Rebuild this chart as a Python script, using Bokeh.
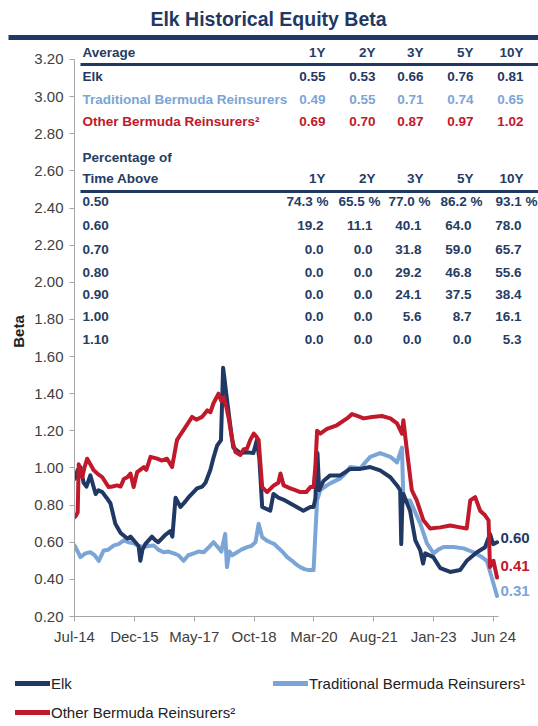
from bokeh.plotting import figure
from bokeh.models import (Range1d, FixedTicker, Label, BoxAnnotation, Legend, LegendItem)
from bokeh.embed import file_html
from bokeh.resources import INLINE

# ---------------- data ----------------
x_tick_months = [0, 17, 34, 51, 68, 85, 102, 119]
x_tick_labels = ["Jul-14", "Dec-15", "May-17", "Oct-18", "Mar-20", "Aug-21", "Jan-23", "Jun 24"]
y_ticks = [0.2, 0.4, 0.6, 0.8, 1.0, 1.2, 1.4, 1.6, 1.8, 2.0, 2.2, 2.4, 2.6, 2.8, 3.0, 3.2]

# months since Jul-2014
elk_m = [0, 0.3, 0.9, 1.7, 2.6, 3.4, 4.5, 6.0, 6.8, 7.9,
         9.1, 10.2, 11.6, 13.1, 15.0, 15.9, 17.3, 18.2, 18.7, 19.3,
         20.1, 22.0, 23.0, 23.8, 25.8, 27.2, 27.8, 28.7, 30.1, 31.5,
         32.3, 33.8, 34.8, 36.3, 37.2, 38.6, 39.4, 40.5, 41.6, 42.2,
         42.6, 43.1, 44.3, 45.1, 47.1, 49.0, 50.8, 51.8, 52.5, 53.3,
         55.6, 56.5, 57.9, 59.3, 62.1, 65.0, 67.0, 67.9, 68.4, 69.0,
         69.5, 70.7, 72.6, 75.5, 78.3, 81.2, 84.0, 86.8, 89.7, 91.6,
         92.5, 92.8, 93.1, 93.4, 95.3, 96.8, 98.2, 99.0, 99.6, 101.9,
         103.9, 106.7, 109.5, 111.4, 114.3, 116.6, 118.0, 118.9, 120.0]
elk_v = [0.94, 0.95, 0.99, 1.005, 0.92, 0.90, 0.96, 0.86, 0.88, 0.87,
         0.84, 0.81, 0.70, 0.65, 0.62, 0.63, 0.60, 0.58, 0.50, 0.56,
         0.59, 0.63, 0.61, 0.60, 0.64, 0.66, 0.63, 0.84, 0.79, 0.82,
         0.84, 0.87, 0.89, 0.90, 0.92, 0.99, 1.05, 1.12, 1.15, 1.54,
         1.48, 1.40, 1.22, 1.11, 1.08, 1.085, 1.08, 1.15, 1.05, 0.79,
         0.77, 0.86, 0.84, 0.83, 0.80, 0.77, 0.79, 0.79, 0.835, 1.08,
         0.88, 0.93, 0.96, 0.96, 0.995, 0.995, 1.005, 0.987, 0.95, 0.906,
         0.88, 0.59, 0.80, 0.86, 0.77, 0.61, 0.556, 0.485, 0.54, 0.52,
         0.46, 0.44, 0.45, 0.50, 0.546, 0.573, 0.645, 0.59, 0.60]

other_m = [0, 0.3, 0.9, 1.2, 1.7, 2.2, 2.8, 3.6, 4.5, 5.5,
           6.5, 7.9, 9.7, 10.8, 12.1, 13.1, 14.0, 15.0, 15.9, 16.8,
           17.8, 19.7, 20.4, 21.6, 23.5, 24.7, 26.3, 27.7, 29.1, 30.1,
           31.5, 33.4, 34.6, 36.2, 37.7, 38.6, 39.5, 40.9, 41.7, 42.4,
           43.1, 43.8, 44.8, 45.7, 47.1, 48.0, 49.0, 49.9, 50.9, 51.6,
           52.3, 53.3, 54.7, 56.6, 57.9, 58.5, 59.4, 61.3, 62.7, 64.1,
           65.8, 67.0, 67.9, 68.4, 68.9, 69.8, 71.7, 74.5, 77.4, 78.8,
           80.3, 82.1, 84.5, 87.3, 89.7, 91.6, 93.0, 93.4, 94.4, 95.8,
           97.2, 99.1, 101.0, 103.9, 106.7, 109.5, 111.4, 112.4, 113.8, 115.2,
           116.6, 117.6, 118.0, 119.0, 120.0]
other_v = [0.735, 0.74, 0.76, 1.02, 0.98, 0.95, 1.00, 1.05, 1.02, 0.987,
           0.97, 0.95, 0.897, 0.90, 0.906, 0.90, 0.94, 0.95, 0.97, 0.897,
           0.978, 1.005, 0.99, 1.06, 1.05, 1.04, 1.05, 1.005, 1.15, 1.18,
           1.22, 1.275, 1.26, 1.275, 1.31, 1.30, 1.35, 1.40, 1.36, 1.38,
           1.33, 1.267, 1.15, 1.086, 1.07, 1.10, 1.105, 1.15, 1.185, 1.17,
           1.15, 0.897, 0.87, 0.906, 0.92, 0.97, 0.906, 0.89, 0.88, 0.87,
           0.87, 0.897, 0.897, 1.005, 1.20, 1.185, 1.21, 1.23, 1.267, 1.29,
           1.28, 1.267, 1.275, 1.28, 1.267, 1.24, 1.185, 1.257, 1.095, 0.88,
           0.825, 0.718, 0.674, 0.68, 0.69, 0.68, 0.674, 0.825, 0.843, 0.77,
           0.745, 0.718, 0.466, 0.50, 0.41]

trad_m = [0, 0.9, 1.7, 3.1, 4.5, 5.7, 6.9, 8.3, 9.6, 11.2,
          12.5, 14.0, 15.3, 16.8, 18.2, 19.7, 21.0, 22.5, 23.8, 25.3,
          26.7, 28.2, 29.5, 31.0, 32.3, 33.9, 35.2, 36.7, 38.0, 39.5,
          40.9, 41.7, 42.8, 43.3, 44.0, 44.8, 46.2, 47.4, 49.0, 50.2,
          51.4, 52.3, 53.3, 54.5, 55.6, 56.8, 58.0, 59.0, 60.4, 61.8,
          63.0, 64.1, 65.3, 66.5, 67.9, 68.4, 68.9, 69.8, 71.2, 72.6,
          75.5, 76.9, 78.3, 81.2, 82.6, 84.0, 86.8, 89.7, 91.6, 93.0,
          93.4, 95.3, 96.8, 98.2, 100.1, 102.0, 103.3, 104.8, 107.6, 110.5,
          113.3, 115.7, 117.1, 118.5, 120.0]
trad_v = [0.583, 0.55, 0.52, 0.54, 0.546, 0.53, 0.50, 0.556, 0.56, 0.583,
          0.59, 0.61, 0.60, 0.594, 0.58, 0.574, 0.58, 0.583, 0.56, 0.546,
          0.55, 0.54, 0.53, 0.50, 0.53, 0.54, 0.55, 0.546, 0.57, 0.60,
          0.57, 0.55, 0.645, 0.466, 0.55, 0.53, 0.546, 0.56, 0.574, 0.58,
          0.60, 0.70, 0.627, 0.61, 0.60, 0.59, 0.567, 0.55, 0.52, 0.50,
          0.48, 0.466, 0.455, 0.45, 0.45, 0.645, 0.825, 0.88, 0.90, 0.917,
          0.944, 0.97, 1.005, 0.998, 1.03, 1.06, 1.08, 1.06, 1.03, 1.11,
          0.825, 0.825, 0.76, 0.70, 0.594, 0.54, 0.56, 0.574, 0.574, 0.567,
          0.546, 0.52, 0.50, 0.41, 0.31]

end_labels = ["0.60", "0.41", "0.31"]

series_names = ["Elk", "Traditional Bermuda Reinsurers\u00b9", "Other Bermuda Reinsurers\u00b2"]

# table data
periods = ["1Y", "2Y", "3Y", "5Y", "10Y"]
avg_elk = ["0.55", "0.53", "0.66", "0.76", "0.81"]
avg_trad = ["0.49", "0.55", "0.71", "0.74", "0.65"]
avg_other = ["0.69", "0.70", "0.87", "0.97", "1.02"]
thresholds = ["0.50", "0.60", "0.70", "0.80", "0.90", "1.00", "1.10"]
pct_above = [
    ["74.3 %", "65.5 %", "77.0 %", "86.2 %", "93.1 %"],
    ["19.2", "11.1", "40.1", "64.0", "78.0"],
    ["0.0", "0.0", "31.8", "59.0", "65.7"],
    ["0.0", "0.0", "29.2", "46.8", "55.6"],
    ["0.0", "0.0", "24.1", "37.5", "38.4"],
    ["0.0", "0.0", "5.6", "8.7", "16.1"],
    ["0.0", "0.0", "0.0", "0.0", "5.3"],
]

# ---------------- style ----------------
NAVY = "#1F3864"
LIGHT = "#7BA5D6"
RED = "#C0192B"
TXT = "#263C63"
GRAY = "#404040"
FONT = "Liberation Sans"
TS = "13.5px"

W = 538
HEAD_H = 46
FOOT_H = 66
MAIN_H = 726 - HEAD_H - FOOT_H     # 614 -> image y 46..660

# ---------- header (title + rule) ----------
head = figure(width=W, height=HEAD_H, output_backend="svg", toolbar_location=None,
              x_range=Range1d(0, W), y_range=Range1d(0, HEAD_H),
              x_axis_location=None, y_axis_location=None, min_border=0)
head.outline_line_color = None
head.grid.grid_line_color = None
head.add_layout(Label(x=268, y=HEAD_H - 18, text="Elk Historical Equity Beta",
                      text_font=FONT, text_font_size="19.5px", text_font_style="bold",
                      text_color=NAVY, text_align="center", text_baseline="middle"))
head.add_layout(BoxAnnotation(left=8, right=W, top=HEAD_H - 34.5, bottom=HEAD_H - 39.5,
                              fill_color=NAVY, fill_alpha=1, line_color=None))

# ---------- main chart ----------
# frame: image x 74..538, image y 46..616 ; 0.2 at y=616, 3.2 at y=59
p = figure(width=W, height=MAIN_H, output_backend="svg", toolbar_location=None,
           x_range=Range1d(0, 131.78), y_range=Range1d(0.2, 3.270),
           min_border_left=74, min_border_right=0, min_border_top=0, min_border_bottom=44)
p.outline_line_color = None
p.grid.grid_line_color = None

p.xaxis.ticker = FixedTicker(ticks=x_tick_months)
p.xaxis.major_label_overrides = {m: l for m, l in zip(x_tick_months, x_tick_labels)}
p.xaxis.bounds = (0, 120.3)
p.yaxis.ticker = FixedTicker(ticks=y_ticks)
p.yaxis.major_label_overrides = {t: f"{t:.2f}" for t in y_ticks}
p.yaxis.bounds = (0.2, 3.2)
for ax in (p.xaxis, p.yaxis):
    ax.axis_line_color = "#A6A6A6"
    ax.major_tick_line_color = "#A6A6A6"
    ax.major_tick_out = 5
    ax.major_tick_in = 0
    ax.minor_tick_line_color = None
    ax.major_label_text_font = FONT
    ax.major_label_text_font_size = "15px"
    ax.major_label_text_color = GRAY
p.xaxis.major_label_standoff = 6
p.yaxis.major_label_standoff = 6
p.yaxis.axis_label = "Beta"
p.yaxis.axis_label_text_font = FONT
p.yaxis.axis_label_text_font_style = "bold"
p.yaxis.axis_label_text_font_size = "15px"
p.yaxis.axis_label_text_color = "#222222"
p.yaxis.axis_label_standoff = 4

p.line(trad_m, trad_v, line_color=LIGHT, line_width=4, line_join="round", line_cap="round")
p.line(elk_m, elk_v, line_color=NAVY, line_width=4, line_join="round", line_cap="round")
p.line(other_m, other_v, line_color=RED, line_width=4, line_join="round", line_cap="round")


def img_label(text, X, Y, color=TXT, size=TS, align="left", bold=True):
    """text at image pixel (X, Y): frame-relative screen units"""
    p.add_layout(Label(x=X - 74, y=616 - Y, x_units="screen", y_units="screen", text=text,
                       text_font=FONT, text_font_size=size, text_color=color,
                       text_font_style="bold" if bold else "normal",
                       text_align=align, text_baseline="middle"))


def img_rule(X0, X1, Y, thick, color=NAVY):
    p.add_layout(BoxAnnotation(left=X0 - 74, right=X1 - 74, top=616 - Y + thick / 2,
                               bottom=616 - Y - thick / 2, left_units="screen", right_units="screen",
                               top_units="screen", bottom_units="screen", fill_color=color,
                               fill_alpha=1, line_color=None))


# table: averages
col_r = [325, 375, 423, 473, 523]
img_label("Average", 82, 52)
for c, per in zip(col_r, periods):
    img_label(per, c, 52, align="right")
img_rule(80, 538, 64, 3)
for name, vals, color, yy in [("Elk", avg_elk, NAVY, 76),
                              ("Traditional Bermuda Reinsurers", avg_trad, LIGHT, 99),
                              ("Other Bermuda Reinsurers\u00b2", avg_other, RED, 121)]:
    img_label(name, 82, yy, color=color)
    for c, v in zip(col_r, vals):
        img_label(v, c, yy, color=color, align="right")

# table: percentage of time above
img_label("Percentage of", 82, 157)
img_label("Time Above", 82, 178)
for c, per in zip(col_r, periods):
    img_label(per, c, 178, align="right")
img_rule(80, 538, 191, 3)
row_y = [201, 225, 249, 272, 294, 316, 339]
col_r2 = [323, 372, 421, 471, 521]
col_pct = [328, 380, 430, 482, 537]
for th, vals, yy in zip(thresholds, pct_above, row_y):
    img_label(th, 82, yy)
    cols = col_pct if vals[0].endswith("%") else col_r2
    for c, v in zip(cols, vals):
        img_label(v, c, yy, align="right")

# end-of-line value labels
for txt, color, yy in zip(end_labels, [NAVY, RED, LIGHT], [537, 565, 590]):
    img_label(txt, 500, yy, color=color, size="15px")

# ---------- footer legend ----------
foot = figure(width=W, height=FOOT_H, output_backend="svg", toolbar_location=None,
              x_range=Range1d(0, W), y_range=Range1d(0, FOOT_H),
              x_axis_location=None, y_axis_location=None, min_border=0)
foot.outline_line_color = None
foot.grid.grid_line_color = None
nan = float("nan")
lk = dict(line_width=5, line_cap="round")
f_elk = foot.line([nan], [nan], line_color=NAVY, **lk)
f_trad = foot.line([nan], [nan], line_color=LIGHT, **lk)
f_other = foot.line([nan], [nan], line_color=RED, **lk)

leg1 = Legend(items=[LegendItem(label=series_names[0], renderers=[f_elk]),
                     LegendItem(label=series_names[2], renderers=[f_other])],
              location=(15, 4), spacing=9)
leg2 = Legend(items=[LegendItem(label=series_names[1], renderers=[f_trad])],
              location=(273, 33))
for lg in (leg1, leg2):
    lg.glyph_width = 35
    lg.glyph_height = 20
    lg.label_standoff = 1
    lg.padding = 0
    lg.margin = 0
    lg.border_line_color = None
    lg.background_fill_alpha = 0
    lg.label_text_font = FONT
    lg.label_text_font_size = "15px"
    lg.label_text_color = "#222222"
    lg.label_text_baseline = "middle"
    foot.add_layout(lg)

open("out.html", "w").write(file_html([head, p, foot], INLINE))
